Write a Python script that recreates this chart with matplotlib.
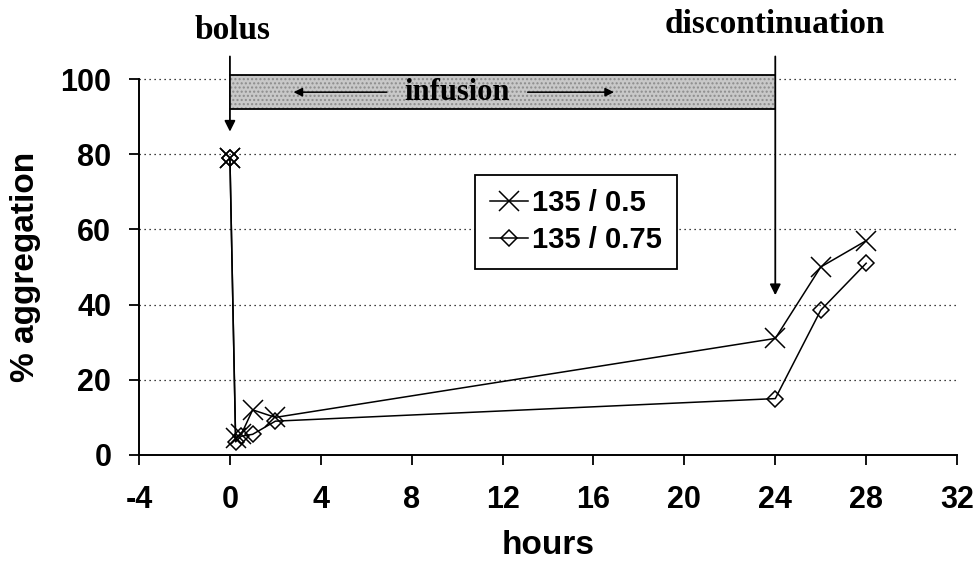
import matplotlib
matplotlib.use('Agg')
import matplotlib.pyplot as plt
from matplotlib.patches import Rectangle

# hours after bolus, % aggregation
hours_a = [0, 0, 0.25, 0.5, 1, 2, 24, 26, 28]
agg_a = [79, 79, 4.5, 5.5, 12, 10, 31, 50, 57]
hours_b = [0, 0, 0.25, 0.5, 1, 2, 24, 26, 28]
agg_b = [79, 79, 3.5, 5, 5.5, 9, 15, 38.5, 51]
labels = ['135 / 0.5', '135 / 0.75']
xticks = [-4, 0, 4, 8, 12, 16, 20, 24, 28, 32]
yticks = [0, 20, 40, 60, 80, 100]

sans = 'Liberation Sans'
serif = 'Liberation Serif'

fig = plt.figure(figsize=(9.75, 5.62), dpi=100)
ax = fig.add_axes([0.1426, 0.1904, 0.839, 0.669])

# dotted gridlines
for yv in yticks[1:]:
    ax.axhline(yv, color='black', linestyle=(0, (1, 3)), linewidth=0.9, zorder=1, clip_on=False)

ax.plot(hours_a, agg_a, color='black', marker='x', markersize=14, markeredgewidth=1.1,
        linewidth=1.1, label=labels[0], zorder=3)
ax.plot(hours_b, agg_b, color='black', marker='D', markersize=8.5, markerfacecolor='none',
        markeredgewidth=1.1, linewidth=1.1, label=labels[1], zorder=3)

# infusion band
ax.add_patch(Rectangle((0, 92), 24, 9, facecolor='#c8c8c8', edgecolor='#8c8c8c', linewidth=0,
                       hatch='....', clip_on=False, zorder=2))
ax.plot([0, 24], [101, 101], color='black', lw=1.3, clip_on=False, zorder=2)
ax.plot([0, 24], [92, 92], color='black', lw=1.3, clip_on=False, zorder=2)
ax.text(10.0, 96.3, 'infusion', fontfamily=serif, fontweight='bold', fontsize=22,
        ha='center', va='center', zorder=6)
ax.annotate('', xy=(2.8, 96.5), xytext=(6.9, 96.5), zorder=6, annotation_clip=False,
            arrowprops=dict(arrowstyle='-|>', color='black', lw=1.1, mutation_scale=13,
                            shrinkA=0, shrinkB=0))
ax.annotate('', xy=(16.9, 96.5), xytext=(13.1, 96.5), zorder=6, annotation_clip=False,
            arrowprops=dict(arrowstyle='-|>', color='black', lw=1.1, mutation_scale=13,
                            shrinkA=0, shrinkB=0))

# bolus / discontinuation arrows
ax.annotate('', xy=(0, 86), xytext=(0, 106), annotation_clip=False,
            arrowprops=dict(arrowstyle='-|>', color='black', lw=1.3, mutation_scale=16,
                            shrinkA=0, shrinkB=0))
ax.text(0.1, 113, 'bolus', fontfamily=serif, fontweight='bold', fontsize=24,
        ha='center', va='center', clip_on=False)
ax.annotate('', xy=(24, 42.5), xytext=(24, 106), annotation_clip=False,
            arrowprops=dict(arrowstyle='-|>', color='black', lw=1.3, mutation_scale=16,
                            shrinkA=0, shrinkB=0))
ax.text(24.0, 114.5, 'discontinuation', fontfamily=serif, fontweight='bold', fontsize=24,
        ha='center', va='center', clip_on=False)

ax.set_xlim(-4, 32)
ax.set_ylim(0, 100)
ax.set_xticks(xticks)
ax.set_yticks(yticks)
ax.set_xticklabels([str(v) for v in xticks], fontfamily=sans, fontweight='bold', fontsize=22)
ax.set_yticklabels([str(v) for v in yticks], fontfamily=sans, fontweight='bold', fontsize=22)
ax.tick_params(axis='x', direction='out', length=7.5, width=1.3, color='black', pad=14)
ax.tick_params(axis='y', direction='out', length=7, width=1.3, color='black', pad=13)
ax.set_xlabel('hours', fontfamily=sans, fontweight='bold', fontsize=24, labelpad=11)
ax.set_ylabel('% aggregation', fontfamily=sans, fontweight='bold', fontsize=24, labelpad=14)

for s in ['top', 'right']:
    ax.spines[s].set_visible(False)
for s in ['left', 'bottom']:
    ax.spines[s].set_linewidth(1.4)

leg = ax.legend(loc='upper left', bbox_to_anchor=(0.411, 0.745), borderaxespad=0,
                frameon=True, fancybox=False, edgecolor='black', framealpha=1,
                handlelength=1.3, handletextpad=0.15, borderpad=0.5, labelspacing=0.3,
                prop={'family': sans, 'weight': 'bold', 'size': 21})
leg.get_frame().set_linewidth(1.3)
leg.set_zorder(5)

fig.savefig('out.png', dpi=100)
